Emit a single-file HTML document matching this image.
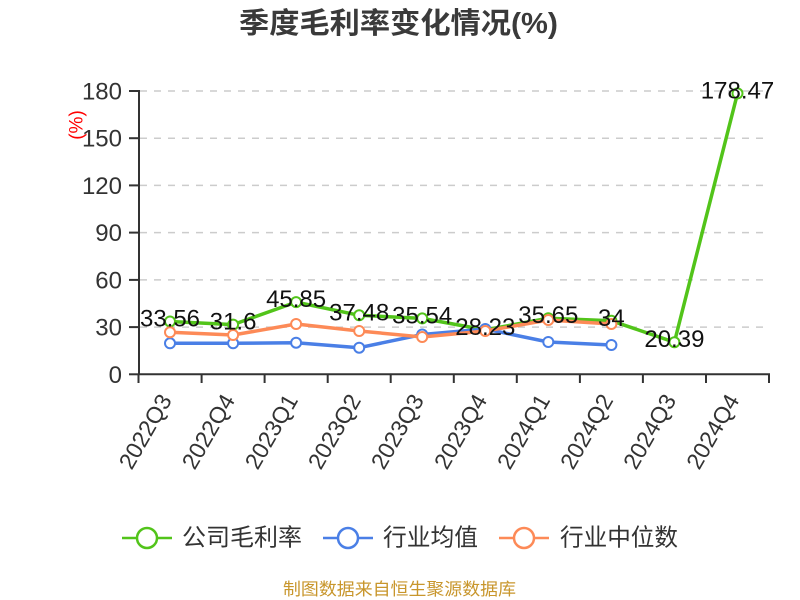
<!DOCTYPE html>
<html>
<head>
<meta charset="utf-8">
<style>
  html, body { margin: 0; padding: 0; background: #ffffff; }
  svg { display: block; }
</style>
</head>
<body>
<svg width="800" height="600" viewBox="0 0 800 600" xmlns="http://www.w3.org/2000/svg">
  <rect x="0" y="0" width="800" height="600" fill="#ffffff"/>

  <!-- Title -->
  <text x="239" y="33" textLength="319" lengthAdjust="spacingAndGlyphs" font-family="'Liberation Sans', 'Noto Sans CJK SC', sans-serif" font-weight="bold" font-size="29" fill="#3a3a3a">季度毛利率变化情况(%)</text>

  <!-- Gridlines -->
  <g stroke="#cccccc" stroke-width="1.5" stroke-dasharray="7 7">
    <line x1="140" y1="327.1" x2="769" y2="327.1"/>
    <line x1="140" y1="279.9" x2="769" y2="279.9"/>
    <line x1="140" y1="232.6" x2="769" y2="232.6"/>
    <line x1="140" y1="185.4" x2="769" y2="185.4"/>
    <line x1="140" y1="138.2" x2="769" y2="138.2"/>
    <line x1="140" y1="91.0" x2="769" y2="91.0"/>
  </g>

  <!-- Y axis -->
  <g stroke="#333333" stroke-width="2">
    <line x1="139" y1="90" x2="139" y2="375"/>
    <line x1="129" y1="374.3" x2="139" y2="374.3"/>
    <line x1="129" y1="327.1" x2="139" y2="327.1"/>
    <line x1="129" y1="279.9" x2="139" y2="279.9"/>
    <line x1="129" y1="232.6" x2="139" y2="232.6"/>
    <line x1="129" y1="185.4" x2="139" y2="185.4"/>
    <line x1="129" y1="138.2" x2="139" y2="138.2"/>
    <line x1="129" y1="91.0" x2="139" y2="91.0"/>
  </g>
  <g font-family="'Liberation Sans', sans-serif" font-size="24" fill="#333333" text-anchor="end">
    <text x="122" y="382.8">0</text>
    <text x="122" y="335.6">30</text>
    <text x="122" y="288.4">60</text>
    <text x="122" y="241.1">90</text>
    <text x="122" y="193.9">120</text>
    <text x="122" y="146.7">150</text>
    <text x="122" y="99.5">180</text>
  </g>
  <text transform="translate(77,125) rotate(-90)" text-anchor="middle" dominant-baseline="central" font-family="'Liberation Sans', sans-serif" font-size="19" fill="#ff0000">(%)</text>

  <!-- X axis -->
  <g stroke="#333333" stroke-width="2">
    <line x1="138" y1="374.3" x2="770" y2="374.3"/>
    <line x1="138.5" y1="374" x2="138.5" y2="383"/>
    <line x1="201.6" y1="374" x2="201.6" y2="383"/>
    <line x1="264.6" y1="374" x2="264.6" y2="383"/>
    <line x1="327.7" y1="374" x2="327.7" y2="383"/>
    <line x1="390.7" y1="374" x2="390.7" y2="383"/>
    <line x1="453.8" y1="374" x2="453.8" y2="383"/>
    <line x1="516.8" y1="374" x2="516.8" y2="383"/>
    <line x1="579.9" y1="374" x2="579.9" y2="383"/>
    <line x1="642.9" y1="374" x2="642.9" y2="383"/>
    <line x1="706.0" y1="374" x2="706.0" y2="383"/>
    <line x1="769.0" y1="374" x2="769.0" y2="383"/>
  </g>
  <g font-family="'Liberation Sans', sans-serif" font-size="23" fill="#333333" text-anchor="end">
    <text transform="translate(172.5,400) rotate(-60)">2022Q3</text>
    <text transform="translate(235.6,400) rotate(-60)">2022Q4</text>
    <text transform="translate(298.6,400) rotate(-60)">2023Q1</text>
    <text transform="translate(361.7,400) rotate(-60)">2023Q2</text>
    <text transform="translate(424.7,400) rotate(-60)">2023Q3</text>
    <text transform="translate(487.8,400) rotate(-60)">2023Q4</text>
    <text transform="translate(550.8,400) rotate(-60)">2024Q1</text>
    <text transform="translate(613.9,400) rotate(-60)">2024Q2</text>
    <text transform="translate(676.9,400) rotate(-60)">2024Q3</text>
    <text transform="translate(740.0,400) rotate(-60)">2024Q4</text>
  </g>

  <!-- Green series: 公司毛利率 -->
  <polyline fill="none" stroke="#52c41a" stroke-width="3.5" stroke-linejoin="round"
    points="170.0,321.5 233.1,324.6 296.1,302.1 359.2,315.3 422.2,318.4 485.3,329.9 548.3,318.2 611.4,320.8 674.4,342.2 737.5,93.4"/>
  <g fill="#ffffff" stroke="#52c41a" stroke-width="2">
    <circle cx="170.0" cy="321.5" r="5"/>
    <circle cx="233.1" cy="324.6" r="5"/>
    <circle cx="296.1" cy="302.1" r="5"/>
    <circle cx="359.2" cy="315.3" r="5"/>
    <circle cx="422.2" cy="318.4" r="5"/>
    <circle cx="485.3" cy="329.9" r="5"/>
    <circle cx="548.3" cy="318.2" r="5"/>
    <circle cx="611.4" cy="320.8" r="5"/>
    <circle cx="674.4" cy="342.2" r="5"/>
    <circle cx="737.5" cy="93.4" r="5"/>
  </g>

  <!-- Blue series: 行业均值 -->
  <polyline fill="none" stroke="#4a7fe6" stroke-width="3.5" stroke-linejoin="round"
    points="170.0,343.3 233.1,343.3 296.1,342.7 359.2,347.7 422.2,334.5 485.3,329.0 548.3,342.0 611.4,345.0"/>
  <g fill="#ffffff" stroke="#4a7fe6" stroke-width="2">
    <circle cx="170.0" cy="343.3" r="5"/>
    <circle cx="233.1" cy="343.3" r="5"/>
    <circle cx="296.1" cy="342.7" r="5"/>
    <circle cx="359.2" cy="347.7" r="5"/>
    <circle cx="422.2" cy="334.5" r="5"/>
    <circle cx="485.3" cy="329.0" r="5"/>
    <circle cx="548.3" cy="342.0" r="5"/>
    <circle cx="611.4" cy="345.0" r="5"/>
  </g>

  <!-- Orange series: 行业中位数 -->
  <polyline fill="none" stroke="#fd8a57" stroke-width="3.5" stroke-linejoin="round"
    points="170.0,332.3 233.1,335.0 296.1,324.0 359.2,331.0 422.2,337.0 485.3,331.0 548.3,320.0 611.4,324.0"/>
  <g fill="#ffffff" stroke="#fd8a57" stroke-width="2">
    <circle cx="170.0" cy="332.3" r="5"/>
    <circle cx="233.1" cy="335.0" r="5"/>
    <circle cx="296.1" cy="324.0" r="5"/>
    <circle cx="359.2" cy="331.0" r="5"/>
    <circle cx="422.2" cy="337.0" r="5"/>
    <circle cx="485.3" cy="331.0" r="5"/>
    <circle cx="548.3" cy="320.0" r="5"/>
    <circle cx="611.4" cy="324.0" r="5"/>
  </g>

  <!-- Data labels -->
  <g font-family="'Liberation Sans', sans-serif" font-size="24" fill="#111111" text-anchor="middle">
    <text x="170.0" y="326.5">33.56</text>
    <text x="233.1" y="329.6">31.6</text>
    <text x="296.1" y="307.1">45.85</text>
    <text x="359.2" y="320.3">37.48</text>
    <text x="422.2" y="323.4">35.54</text>
    <text x="485.3" y="334.9">28.23</text>
    <text x="548.3" y="323.2">35.65</text>
    <text x="611.4" y="325.8">34</text>
    <text x="674.4" y="347.2">20.39</text>
    <text x="737.5" y="98.4">178.47</text>
  </g>

  <!-- Legend -->
  <g stroke-width="2.5" fill="#ffffff">
    <line x1="122" y1="538" x2="172" y2="538" stroke="#52c41a"/>
    <circle cx="147" cy="538" r="10" stroke="#52c41a"/>
    <line x1="323" y1="538" x2="373" y2="538" stroke="#4a7fe6"/>
    <circle cx="348" cy="538" r="10" stroke="#4a7fe6"/>
    <line x1="499" y1="538" x2="549" y2="538" stroke="#fd8a57"/>
    <circle cx="524" cy="538" r="10" stroke="#fd8a57"/>
  </g>
  <g font-family="'Liberation Sans', 'Noto Sans CJK SC', sans-serif" font-size="24" fill="#333333">
    <text x="182" y="545.5" textLength="120" lengthAdjust="spacingAndGlyphs">公司毛利率</text>
    <text x="383" y="545.5" textLength="95" lengthAdjust="spacingAndGlyphs">行业均值</text>
    <text x="560" y="545.5" textLength="118" lengthAdjust="spacingAndGlyphs">行业中位数</text>
  </g>

  <!-- Footer -->
  <text x="283" y="595" textLength="233" lengthAdjust="spacingAndGlyphs" font-family="'Liberation Sans', 'Noto Sans CJK SC', sans-serif" font-size="17" fill="#c8962c">制图数据来自恒生聚源数据库</text>
</svg>
</body>
</html>
